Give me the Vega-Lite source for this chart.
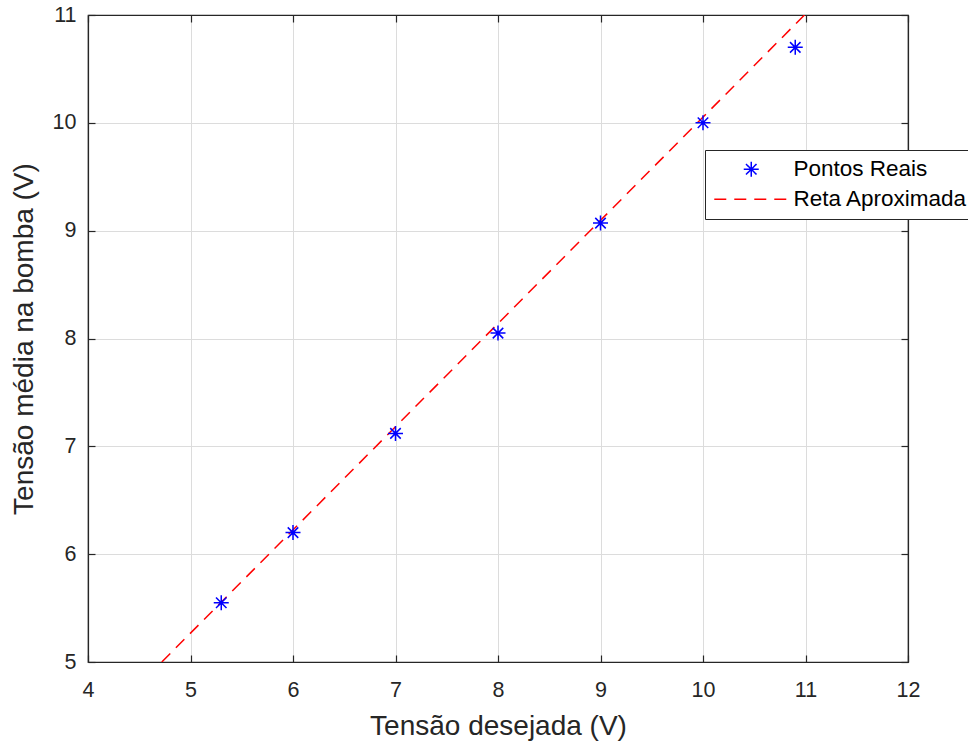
{
  "$schema": "https://vega.github.io/schema/vega-lite/v6.json",
  "width": 820,
  "height": 647,
  "autosize": {"type": "none"},
  "padding": {"left": 88, "top": 15, "right": 60, "bottom": 82},
  "background": "white",
  "config": {
    "font": "Liberation Sans",
    "view": {"stroke": "#262626", "strokeWidth": 1.2},
    "axis": {
      "domainColor": "#262626",
      "tickColor": "#262626",
      "labelColor": "#262626",
      "titleColor": "#262626",
      "labelFont": "Liberation Sans",
      "titleFont": "Liberation Sans",
      "labelFontSize": 21.5,
      "titleFontSize": 28,
      "titleFontWeight": "normal",
      "gridColor": "#dcdcdc",
      "gridWidth": 1,
      "tickSize": -7,
      "tickWidth": 1.2,
      "domainWidth": 1.2
    }
  },
  "datasets": {
    "pts": [
      {"x": 5.3, "y": 5.55, "series": "Pontos Reais"},
      {"x": 6, "y": 6.2, "series": "Pontos Reais"},
      {"x": 7, "y": 7.12, "series": "Pontos Reais"},
      {"x": 8, "y": 8.05, "series": "Pontos Reais"},
      {"x": 9, "y": 9.07, "series": "Pontos Reais"},
      {"x": 10, "y": 10.0, "series": "Pontos Reais"},
      {"x": 10.9, "y": 10.7, "series": "Pontos Reais"}
    ],
    "fit": [
      {"x": 4.72, "y": 5, "series": "Reta Aproximada"},
      {"x": 10.99, "y": 11, "series": "Reta Aproximada"}
    ]
  },
  "layer": [
    {
      "data": {"name": "fit"},
      "mark": {"type": "line", "strokeWidth": 1.5, "clip": true},
      "encoding": {
        "x": {
          "field": "x", "type": "quantitative",
          "scale": {"domain": [4, 12], "nice": false, "zero": false},
          "axis": {"values": [4,5,6,7,8,9,10,11,12], "title": "Tensão desejada (V)", "labelPadding": 24, "titlePadding": 12, "grid": true, "labelFlush": false}
        },
        "y": {
          "field": "y", "type": "quantitative",
          "scale": {"domain": [5, 11], "nice": false, "zero": false},
          "axis": {"values": [5,6,7,8,9,10,11], "title": "Tensão média na bomba (V)", "labelPadding": 19, "titlePadding": 14, "grid": true, "labelFlush": false}
        },
        "color": {
          "field": "series", "type": "nominal",
          "scale": {"domain": ["Pontos Reais", "Reta Aproximada"], "range": ["#0000ff", "#ff0000"]},
          "legend": {
            "title": null,
            "orient": "none",
            "legendX": 617,
            "legendY": 135,
            "padding": 8,
            "strokeColor": "#262626",
            "fillColor": "white",
            "labelFontSize": 22.5,
            "labelFont": "Liberation Sans",
            "labelColor": "#000000",
            "labelOffset": 31,
            "symbolOffset": 27,
            "rowPadding": 7,
            "symbolSize": 225,
            "symbolStrokeWidth": 1.5,
            "symbolFillColor": "transparent",
            "labelLimit": 400
          }
        },
        "strokeDash": {
          "field": "series", "type": "nominal",
          "scale": {"domain": ["Pontos Reais", "Reta Aproximada"], "range": [[1, 0], [12, 8]]},
          "legend": {"title": null}
        }
      }
    },
    {
      "data": {"name": "pts"},
      "mark": {"type": "point", "filled": false, "strokeWidth": 1.5, "size": 225, "opacity": 1},
      "encoding": {
        "x": {"field": "x", "type": "quantitative", "axis": null},
        "y": {"field": "y", "type": "quantitative", "axis": null},
        "color": {"field": "series", "type": "nominal"},
        "shape": {
          "field": "series", "type": "nominal",
          "scale": {"domain": ["Pontos Reais", "Reta Aproximada"], "range": ["M-1,0L1,0M0,-1L0,1M-0.7,-0.7L0.7,0.7M-0.7,0.7L0.7,-0.7", "M-4.93,0L4.93,0"]},
          "legend": {"title": null}
        }
      }
    },
    {
      "data": {"values": [{"x": 4, "y": 5}]},
      "mark": {"type": "point", "opacity": 0},
      "encoding": {
        "x": {"field": "x", "type": "quantitative", "axis": {"orient": "top", "values": [4,5,6,7,8,9,10,11,12], "labels": false, "title": null, "grid": false}},
        "y": {"field": "y", "type": "quantitative", "axis": {"orient": "right", "values": [5,6,7,8,9,10,11], "labels": false, "title": null, "grid": false}}
      }
    }
  ],
  "resolve": {"axis": {"x": "independent", "y": "independent"}}
}
